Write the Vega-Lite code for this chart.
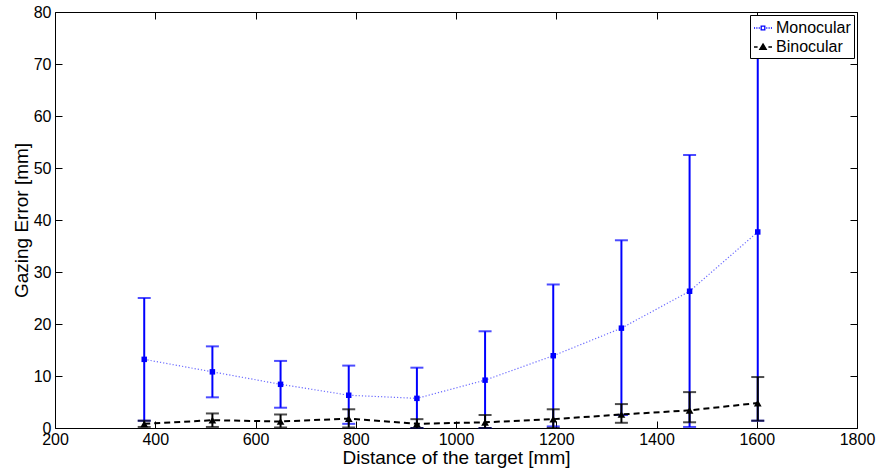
{
  "$schema": "https://vega.github.io/schema/vega-lite/v6.json",
  "width": 802,
  "height": 416,
  "autosize": {"type": "none"},
  "padding": {"left": 55, "top": 12, "right": 19, "bottom": 41},
  "background": "white",
  "config": {
    "view": {"stroke": "black", "strokeWidth": 1},
    "font": "Liberation Sans",
    "axis": {"grid": false, "domain": false, "tickColor": "black", "labelColor": "black", "titleColor": "black", "tickSize": -7, "tickWidth": 1, "labelFontSize": 16, "titleFontSize": 19, "titleFontWeight": "normal", "labelFont": "Liberation Sans", "titleFont": "Liberation Sans", "labelFlush": false, "labelOverlap": false, "format": "d"},
    "legend": {"orient": "top-right", "offset": 3, "title": null, "strokeColor": "black", "fillColor": "white", "padding": 3, "rowPadding": 1, "labelOffset": 3, "labelFontSize": 16, "labelFont": "Liberation Sans", "labelColor": "black", "symbolSize": 324, "symbolStrokeWidth": 1.3, "symbolOpacity": 1}
  },
  "data": {
    "values": [
      {"s": "Monocular", "x": 378, "m": 13.2, "lo": 1.4, "hi": 25.0},
      {"s": "Monocular", "x": 514, "m": 10.8, "lo": 5.9, "hi": 15.7},
      {"s": "Monocular", "x": 650, "m": 8.4, "lo": 3.9, "hi": 12.9},
      {"s": "Monocular", "x": 786, "m": 6.3, "lo": 0.8, "hi": 12.0},
      {"s": "Monocular", "x": 922, "m": 5.7, "lo": 0.0, "hi": 11.6},
      {"s": "Monocular", "x": 1058, "m": 9.2, "lo": 0.0, "hi": 18.6},
      {"s": "Monocular", "x": 1194, "m": 13.9, "lo": 0.3, "hi": 27.6},
      {"s": "Monocular", "x": 1330, "m": 19.2, "lo": 2.5, "hi": 36.1},
      {"s": "Monocular", "x": 1466, "m": 26.3, "lo": 0.2, "hi": 52.5},
      {"s": "Monocular", "x": 1602, "m": 37.7, "lo": 1.4, "hi": 74.0},
      {"s": "Binocular", "x": 378, "m": 0.8, "lo": 0.2, "hi": 1.4},
      {"s": "Binocular", "x": 514, "m": 1.5, "lo": 0.2, "hi": 2.8},
      {"s": "Binocular", "x": 650, "m": 1.25, "lo": 0.1, "hi": 2.6},
      {"s": "Binocular", "x": 786, "m": 1.8, "lo": 0.1, "hi": 3.6},
      {"s": "Binocular", "x": 922, "m": 0.8, "lo": 0.0, "hi": 1.7},
      {"s": "Binocular", "x": 1058, "m": 1.1, "lo": 0.0, "hi": 2.5},
      {"s": "Binocular", "x": 1194, "m": 1.7, "lo": 0.0, "hi": 3.6},
      {"s": "Binocular", "x": 1330, "m": 2.6, "lo": 1.0, "hi": 4.6},
      {"s": "Binocular", "x": 1466, "m": 3.4, "lo": 1.1, "hi": 6.9},
      {"s": "Binocular", "x": 1602, "m": 4.8, "lo": 1.4, "hi": 9.8}
    ]
  },
  "resolve": {"axis": {"x": "independent", "y": "independent"}},
  "layer": [
    {
      "transform": [{"filter": "datum.s === 'Monocular'"}],
      "mark": {"type": "rule", "color": "#0000ff", "strokeWidth": 2},
      "encoding": {
        "x": {"field": "x", "type": "quantitative", "scale": {"domain": [200, 1800], "nice": false, "zero": false},
          "axis": {"orient": "bottom", "values": [200, 400, 600, 800, 1000, 1200, 1400, 1600, 1800], "labelPadding": 10, "title": "Distance of the target [mm]", "titlePadding": 1}},
        "y": {"field": "lo", "type": "quantitative", "scale": {"domain": [0, 80], "nice": false},
          "axis": {"orient": "left", "values": [0, 10, 20, 30, 40, 50, 60, 70, 80], "labelPadding": 11, "title": "Gazing Error [mm]", "titlePadding": 2}},
        "y2": {"field": "hi"}
      }
    },
    {
      "transform": [{"filter": "datum.s === 'Monocular'"}, {"fold": ["lo", "hi"], "as": ["which", "v"]}],
      "mark": {"type": "tick", "orient": "horizontal", "color": "#0000ff", "size": 13, "thickness": 2},
      "encoding": {
        "x": {"field": "x", "type": "quantitative", "axis": null},
        "y": {"field": "v", "type": "quantitative", "axis": null}
      }
    },
    {
      "transform": [{"filter": "datum.s === 'Monocular'"}],
      "mark": {"type": "line", "color": "#6a6aff", "strokeWidth": 1.2, "strokeDash": [1.2, 2]},
      "encoding": {
        "x": {"field": "x", "type": "quantitative", "axis": null},
        "y": {"field": "m", "type": "quantitative", "axis": null}
      }
    },
    {
      "transform": [{"filter": "datum.s === 'Binocular'"}],
      "mark": {"type": "line", "color": "#000000", "strokeWidth": 2, "strokeDash": [6, 4]},
      "encoding": {
        "x": {"field": "x", "type": "quantitative", "axis": null},
        "y": {"field": "m", "type": "quantitative", "axis": null}
      }
    },
    {
      "transform": [{"filter": "datum.s === 'Binocular'"}],
      "mark": {"type": "rule", "color": "#000000", "strokeWidth": 2},
      "encoding": {
        "x": {"field": "x", "type": "quantitative", "axis": null},
        "y": {"field": "lo", "type": "quantitative", "axis": null},
        "y2": {"field": "hi"}
      }
    },
    {
      "transform": [{"filter": "datum.s === 'Binocular'"}, {"fold": ["lo", "hi"], "as": ["which", "v"]}],
      "mark": {"type": "tick", "orient": "horizontal", "color": "#000000", "size": 13, "thickness": 2},
      "encoding": {
        "x": {"field": "x", "type": "quantitative", "axis": null},
        "y": {"field": "v", "type": "quantitative", "axis": null}
      }
    },
    {
      "transform": [{"filter": "datum.s === 'Monocular'"}],
      "mark": {"type": "point", "filled": true, "opacity": 1, "shape": "square", "size": 30, "color": "#0000ff"},
      "encoding": {
        "x": {"field": "x", "type": "quantitative", "axis": null},
        "y": {"field": "m", "type": "quantitative", "axis": null}
      }
    },
    {
      "transform": [{"filter": "datum.s === 'Binocular'"}],
      "mark": {"type": "point", "filled": true, "opacity": 1, "shape": "triangle-up", "size": 60, "color": "#000000"},
      "encoding": {
        "x": {"field": "x", "type": "quantitative", "axis": null},
        "y": {"field": "m", "type": "quantitative", "axis": null}
      }
    },
    {
      "mark": {"type": "point", "opacity": 0},
      "encoding": {
        "x": {"field": "x", "type": "quantitative", "axis": {"orient": "top", "values": [200, 400, 600, 800, 1000, 1200, 1400, 1600, 1800], "labels": false, "title": null}},
        "y": {"field": "m", "type": "quantitative", "axis": {"orient": "right", "values": [0, 10, 20, 30, 40, 50, 60, 70, 80], "labels": false, "title": null}},
        "shape": {"field": "s", "type": "nominal", "title": null, "scale": {"domain": ["Monocular", "Binocular"], "range": ["M-1,0H-0.88M-0.74,0H-0.62M-0.48,0H-0.36M0.36,0H0.48M0.62,0H0.74M0.88,0H1M-0.2,-0.2H0.2V0.2H-0.2Z", "M-1,0H-0.6M0.6,0H1M0,-0.34L0.36,0.27H-0.36Z"]}},
        "fill": {"field": "s", "type": "nominal", "title": null, "scale": {"domain": ["Monocular", "Binocular"], "range": ["#ffffff", "#000000"]}},
        "stroke": {"field": "s", "type": "nominal", "title": null, "scale": {"domain": ["Monocular", "Binocular"], "range": ["#0000ff", "#000000"]}}
      }
    }
  ]
}
